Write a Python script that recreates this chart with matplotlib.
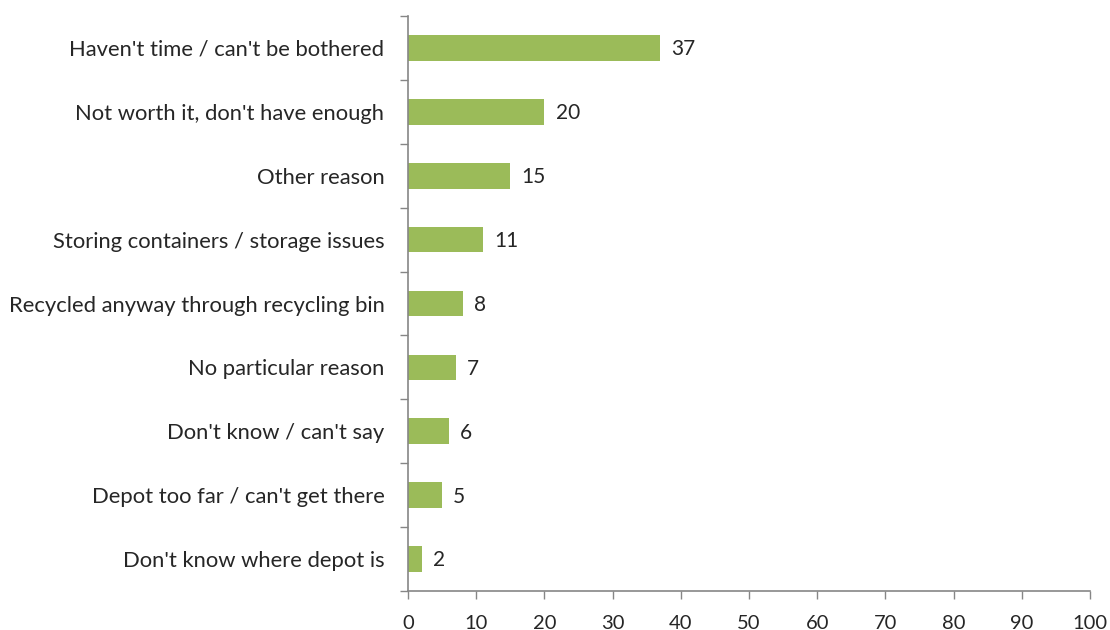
import matplotlib.pyplot as plt
import numpy as np

plt.rcParams['font.family'] = ['Lato', 'DejaVu Sans']

reasons = [
    "Haven't time / can't be bothered",
    "Not worth it, don't have enough",
    "Other reason",
    "Storing containers / storage issues",
    "Recycled anyway through recycling bin",
    "No particular reason",
    "Don't know / can't say",
    "Depot too far / can't get there",
    "Don't know where depot is",
]
percent = [37, 20, 15, 11, 8, 7, 6, 5, 2]

bar_color = "#9BBB59"
axis_color = "#868686"
text_color = "#262626"

fig = plt.figure(figsize=(11.1, 6.3), dpi=100)
ax = fig.add_axes([408 / 1110, 1 - 591 / 630, (1090 - 408) / 1110, (591 - 16) / 630])

ypos = np.arange(len(reasons))[::-1]
ax.barh(ypos, percent, height=0.4, color=bar_color)

for y, v in zip(ypos, percent):
    ax.annotate(str(v), (v, y), xytext=(8, -1), textcoords="offset points",
                va="center", ha="left", fontsize=15, color=text_color)

ax.set_xlim(0, 100)
ax.set_ylim(-0.5, len(reasons) - 0.5)
ax.set_xticks(np.arange(0, 101, 10))

# category labels sit between the boundary ticks
ax.set_yticks(np.arange(-0.5, len(reasons), 1.0))
ax.set_yticklabels([])
ax.set_yticks(ypos, labels=reasons, minor=True)
ax.tick_params(axis="y", which="minor", length=0, pad=17, labelsize=15.8)
ax.tick_params(axis="y", which="major", length=6, color=axis_color, width=1)
ax.tick_params(axis="x", length=6, color=axis_color, width=1, pad=11, labelsize=14.5)

for side in ["top", "right"]:
    ax.spines[side].set_visible(False)
for side in ["left", "bottom"]:
    ax.spines[side].set_color(axis_color)
    ax.spines[side].set_linewidth(1.2)

for lbl in ax.get_xticklabels() + ax.get_yticklabels(minor=True):
    lbl.set_color(text_color)

fig.savefig("out.png", dpi=100)
